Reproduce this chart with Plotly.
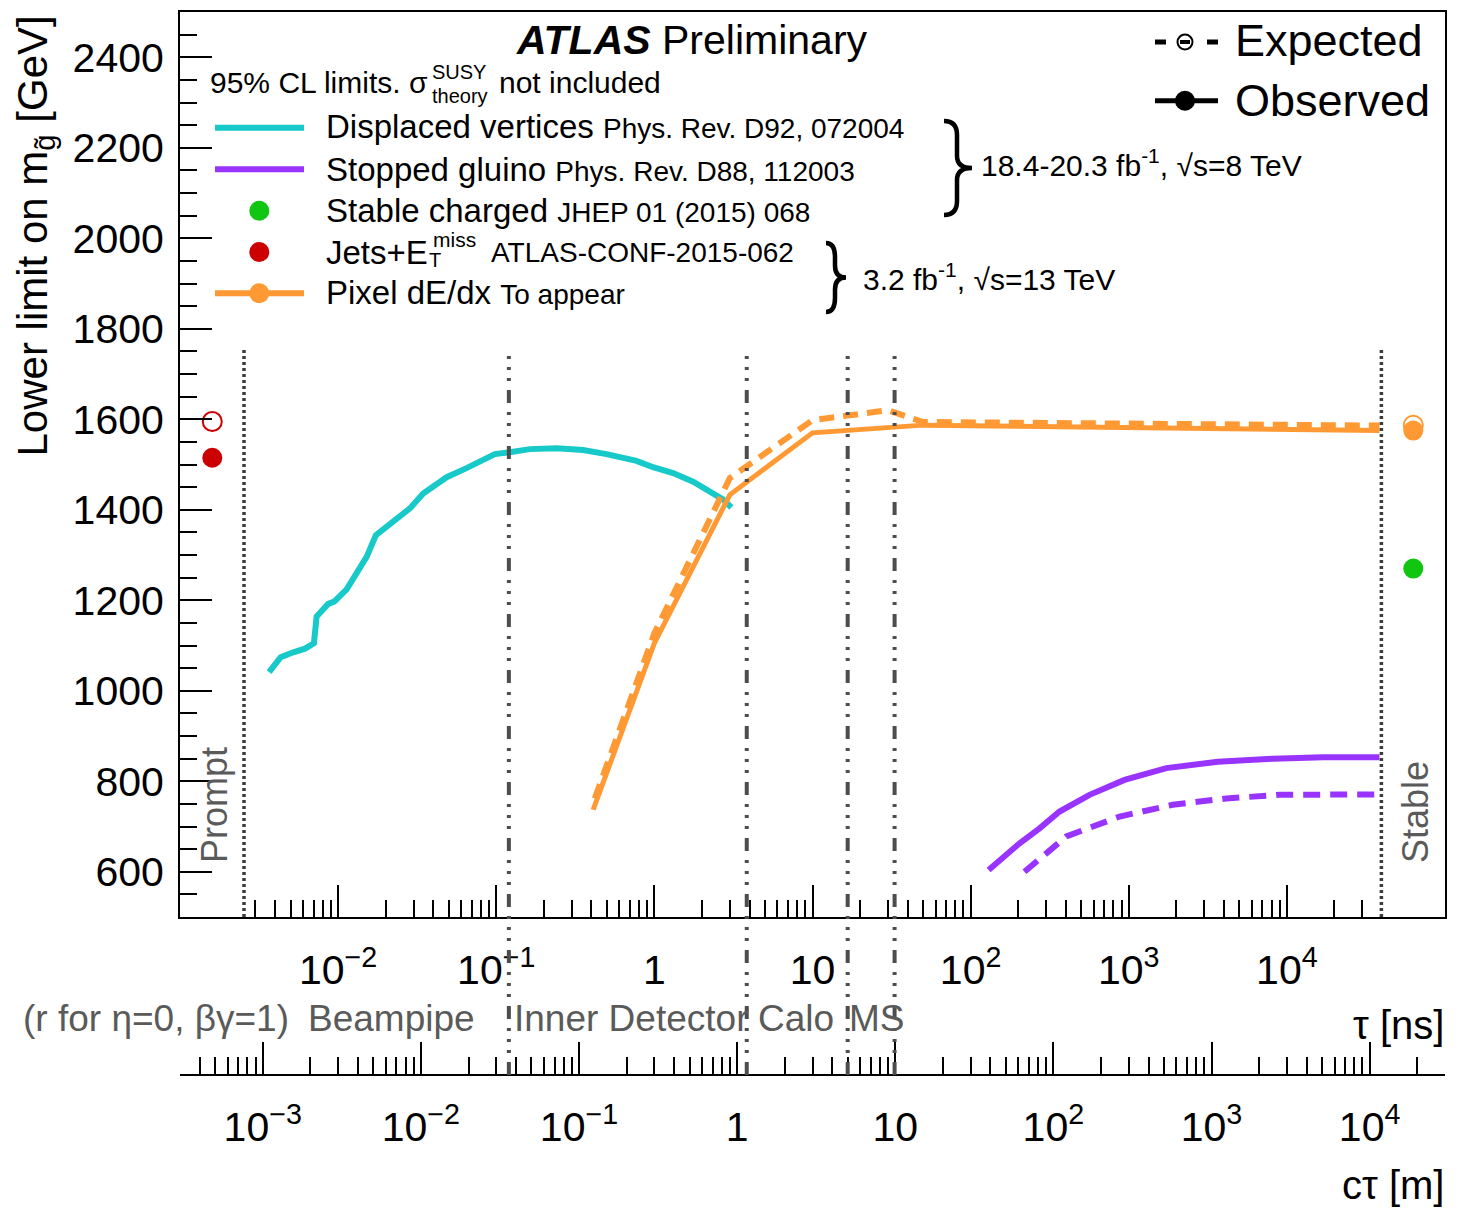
import plotly.graph_objects as go

# ---------------- data ----------------
# Displaced vertices (8 TeV), observed limit vs lifetime tau [ns]
dv_tau = [0.00366, 0.00433, 0.00520, 0.00617, 0.00703, 0.00731, 0.00865, 0.00944,
          0.01132, 0.01309, 0.01514, 0.01734, 0.02028, 0.02460, 0.02844, 0.03451,
          0.03990, 0.04853, 0.06486, 0.08260, 0.09795, 0.1219, 0.1629, 0.2404,
          0.3540, 0.4977, 0.7709, 0.9817, 1.312, 1.758, 2.239, 2.716, 3.069]
dv_mass = [1041, 1074, 1085, 1093, 1105, 1164, 1192, 1197,
           1224, 1263, 1296, 1344, 1363, 1388, 1403, 1436,
           1453, 1472, 1492, 1511, 1523, 1527, 1534, 1536,
           1532, 1523, 1508, 1494, 1481, 1462, 1442, 1423, 1405]

# Stopped gluino (8 TeV)
sg_obs_tau = [130, 204, 273, 365, 565, 940, 1730, 3660, 8150, 16900, 38500]
sg_obs_mass = [604, 663, 696, 733, 770, 803, 829, 843, 850, 853, 853]
sg_exp_tau = [219, 403, 875, 1900, 4130, 8970, 38500]
sg_exp_mass = [600, 678, 722, 748, 762, 770, 771]

# Pixel dE/dx (13 TeV)
px_obs_tau = [0.41, 1.0, 3.0, 10.0, 50.0, 38500]
px_obs_mass = [737, 1105, 1433, 1570, 1587, 1575]
px_exp_tau = [0.42, 1.0, 3.0, 10.0, 30.0, 50.0, 38500]
px_exp_mass = [762, 1127, 1470, 1598, 1620, 1594, 1586]

# Single-point results shown in the "Prompt" and "Stable" columns
prompt_tau = 0.0016
stable_tau = 63000
jets_obs, jets_exp = 1515, 1595
stable_charged_obs = 1270
pixel_stable_obs, pixel_stable_exp = 1575, 1587

# Edges of the lifetime axis and detector boundaries (r in metres)
prompt_edge_tau = 0.00254
stable_edge_tau = 39600
detector_r_m = [0.036, 1.15, 5.0, 9.9]

# Tick labels
tau_ticks = [1e-2, 1e-1, 1, 10, 1e2, 1e3, 1e4]
tau_ticktext = ["10<sup>\u22122</sup>", "10<sup>\u22121</sup>", "1", "10",
                "10<sup>2</sup>", "10<sup>3</sup>", "10<sup>4</sup>"]
ctau_ticks = [1e-3, 1e-2, 1e-1, 1, 10, 1e2, 1e3, 1e4]
ctau_ticktext = ["10<sup>\u22123</sup>", "10<sup>\u22122</sup>", "10<sup>\u22121</sup>", "1", "10",
                 "10<sup>2</sup>", "10<sup>3</sup>", "10<sup>4</sup>"]
tau_minor = [m * 10.0 ** e for e in range(-3, 5) for m in range(2, 10)
             if 0.0029 < m * 10.0 ** e < 35000]
ctau_minor = [m * 10.0 ** e for e in range(-4, 5) for m in range(2, 10)
              if 3.5e-4 < m * 10.0 ** e < 2.9e4]

# ---------------- styling ----------------
W, H = 1460, 1211
FONT = "Liberation Sans, Arial, Helvetica, sans-serif"
CYAN, PURPLE, ORANGE = "#17c9c9", "#9933ff", "#ff9933"
GREEN, RED, GREY = "#11c611", "#cc0000", "#4d4d4d"
TXTGREY = "#5a5a5a"


def px(x):
    return x / W


def py(y):
    return 1 - y / H


fig = go.Figure()

# ---------------- curves ----------------
fig.add_trace(go.Scatter(x=dv_tau, y=dv_mass, mode="lines",
                         line=dict(color=CYAN, width=6)))
fig.add_trace(go.Scatter(x=sg_exp_tau, y=sg_exp_mass, mode="lines",
                         line=dict(color=PURPLE, width=6, dash="17px,10px")))
fig.add_trace(go.Scatter(x=sg_obs_tau, y=sg_obs_mass, mode="lines",
                         line=dict(color=PURPLE, width=6)))
fig.add_trace(go.Scatter(x=px_exp_tau, y=px_exp_mass, mode="lines",
                         line=dict(color=ORANGE, width=6, dash="15px,9px")))
fig.add_trace(go.Scatter(x=px_obs_tau, y=px_obs_mass, mode="lines",
                         line=dict(color=ORANGE, width=5)))

# prompt / stable points
fig.add_trace(go.Scatter(x=[prompt_tau], y=[jets_exp], mode="markers",
                         marker=dict(symbol="circle-open", size=19, color=RED,
                                     line=dict(width=2, color=RED))))
fig.add_trace(go.Scatter(x=[prompt_tau], y=[jets_obs], mode="markers",
                         marker=dict(symbol="circle", size=20, color=RED)))
fig.add_trace(go.Scatter(x=[stable_tau], y=[stable_charged_obs], mode="markers",
                         marker=dict(symbol="circle", size=20, color=GREEN)))
fig.add_trace(go.Scatter(x=[stable_tau], y=[pixel_stable_exp], mode="markers",
                         marker=dict(symbol="circle-open", size=19, color=ORANGE,
                                     line=dict(width=2, color=ORANGE))))
fig.add_trace(go.Scatter(x=[stable_tau], y=[pixel_stable_obs], mode="markers",
                         marker=dict(symbol="circle", size=20, color=ORANGE)))

# anchor trace for the c*tau axis
fig.add_trace(go.Scatter(x=[1.0], y=[None], xaxis="x2", yaxis="y", mode="markers",
                         hoverinfo="skip"))

shapes = []
# prompt / stable boundaries
for t in (prompt_edge_tau, stable_edge_tau):
    shapes.append(dict(type="line", xref="x", yref="paper", x0=t, x1=t,
                       y0=py(917), y1=py(350),
                       line=dict(color="#3c3c3c", width=3.5, dash="3px,3px")))
# detector boundaries (given in metres on the c*tau axis)
for r in detector_r_m:
    shapes.append(dict(type="line", xref="x2", yref="paper", x0=r, x1=r,
                       y0=py(1075), y1=py(350),
                       line=dict(color=GREY, width=4,
                                 dash="13px,9px,3px,8px,3px,8px,3px,9px")))


# legend samples
def hline(x0, x1, y, color, width, dash="solid"):
    shapes.append(dict(type="line", xref="paper", yref="paper",
                       x0=px(x0), x1=px(x1), y0=py(y), y1=py(y),
                       line=dict(color=color, width=width, dash=dash)))


def dot(x, y, r, color, filled=True, lw=2):
    shapes.append(dict(type="circle", xref="paper", yref="paper",
                       x0=px(x - r), x1=px(x + r), y0=py(y + r), y1=py(y - r),
                       fillcolor=color if filled else "white",
                       line=dict(color=color, width=0 if filled else lw)))


hline(215, 304, 127.7, CYAN, 6)
hline(215, 304, 169.3, PURPLE, 6)
dot(259.3, 210.7, 10, GREEN)
dot(259.3, 252, 10, RED)
hline(215, 304, 293.3, ORANGE, 6)
dot(259.3, 293.3, 10, ORANGE)

# expected / observed key
hline(1155, 1166, 42, "black", 5)
hline(1207, 1218, 42, "black", 5)
dot(1185, 42, 7.5, "black", filled=False, lw=2)
hline(1180, 1190, 42, "black", 4)
hline(1155, 1218, 100.7, "black", 5)
dot(1185, 100.7, 10, "black")


# curly braces
def brace(xl, xs, xt, yt, yb):
    ym = (yt + yb) / 2
    pts = [("M", xl, yt), ("Q", xs, yt), ("", xs, yt + 14), ("L", xs, ym - 12),
           ("Q", xs, ym), ("", xt, ym), ("Q", xs, ym), ("", xs, ym + 12),
           ("L", xs, yb - 14), ("Q", xs, yb), ("", xl, yb)]
    path = " ".join(f"{c} {px(x):.5f},{py(y):.5f}" if c else f"{px(x):.5f},{py(y):.5f}"
                    for c, x, y in pts)
    shapes.append(dict(type="path", xref="paper", yref="paper", path=path,
                       line=dict(color="black", width=4.5)))


brace(944, 957, 972, 121, 215)
brace(826, 835, 846, 243, 312)

annotations = []


def txt(x, y, text, size, xanchor="left", color="black", angle=0, yanchor="middle"):
    annotations.append(dict(x=px(x), y=py(y), xref="paper", yref="paper", text=text,
                            showarrow=False, xanchor=xanchor, yanchor=yanchor,
                            textangle=angle,
                            font=dict(family=FONT, size=size, color=color)))


REF = '<span style="font-size:28px">{}</span>'
txt(514, 40, "<b><i>ATLAS</i></b> Preliminary", 41)
txt(208, 82, "95% CL limits. \u03c3", 30)
txt(430, 72, "SUSY", 20)
txt(430, 96, "theory", 20)
txt(497, 82, "not included", 30)
txt(324, 127, "Displaced vertices " + REF.format("Phys. Rev. D92, 072004"), 33)
txt(324, 169, "Stopped gluino " + REF.format("Phys. Rev. D88, 112003"), 33)
txt(324, 210, "Stable charged " + REF.format("JHEP 01 (2015) 068"), 33)
txt(324, 252, "Jets+E", 33)
txt(431, 239, "miss", 21)
txt(427, 260, "T", 20)
txt(489, 252, "ATLAS-CONF-2015-062", 28)
txt(324, 293, "Pixel dE/dx " + REF.format("To appear"), 33)
txt(979, 163, "18.4-20.3 fb<sup>-1</sup>, \u221as=8 TeV", 30)
txt(861, 277, "3.2 fb<sup>-1</sup>, \u221as=13 TeV", 30)
txt(1233, 40, "Expected", 45)
txt(1233, 100, "Observed", 45)

txt(35, 14, "Lower limit on m<sub>g\u0303</sub> [GeV]", 42, xanchor="center",
    angle=-90, yanchor="top")
txt(215, 805, "Prompt", 36, xanchor="center", color=TXTGREY, angle=-90)
txt(1415, 812, "Stable", 36, xanchor="center", color=TXTGREY, angle=-90)

txt(21, 1018, "(r for \u03b7=0, \u03b2\u03b3=1)", 37, color=TXTGREY)
txt(306, 1018, "Beampipe", 37, color=TXTGREY)
txt(512, 1018, "Inner Detector", 37, color=TXTGREY)
txt(756, 1018, "Calo", 37, color=TXTGREY)
txt(847, 1018, "MS", 37, color=TXTGREY)
txt(1446, 1025, "\u03c4 [ns]", 40, xanchor="right")
txt(1446, 1185, "c\u03c4 [m]", 40, xanchor="right")

axis_common = dict(showgrid=False, zeroline=False, showline=True, linecolor="black",
                   linewidth=2, ticks="inside", tickcolor="black", tickwidth=2,
                   ticklen=32, tickfont=dict(family=FONT, size=41, color="black"))

fig.update_layout(
    width=W, height=H,
    margin=dict(l=0, r=0, t=0, b=0),
    paper_bgcolor="white", plot_bgcolor="white",
    showlegend=False,
    xaxis=dict(type="log", range=[-3, 5], domain=[px(180), px(1445)], anchor="y",
               tickmode="array", tickvals=tau_ticks, ticktext=tau_ticktext,
               mirror=True, ticklabelstandoff=16,
               minor=dict(tickmode="array", tickvals=tau_minor, ticks="inside",
                          ticklen=17, tickwidth=2, tickcolor="black"),
               **axis_common),
    xaxis2=dict(type="log", range=[-3.5235, 4.4765], overlaying="x", anchor="free",
                position=py(1075), side="bottom",
                tickmode="array", tickvals=ctau_ticks, ticktext=ctau_ticktext,
                ticklabelstandoff=16,
                minor=dict(tickmode="array", tickvals=ctau_minor, ticks="inside",
                           ticklen=17, tickwidth=2, tickcolor="black"),
                **axis_common),
    yaxis=dict(range=[500, 2500], domain=[py(917), py(12)], anchor="x",
               tickmode="linear", tick0=0, dtick=200, mirror=True,
               ticklabelstandoff=6,
               minor=dict(dtick=50, ticks="inside", ticklen=17, tickwidth=2,
                          tickcolor="black"),
               **axis_common),
    shapes=shapes,
    annotations=annotations,
)

fig.write_html("out.html")
